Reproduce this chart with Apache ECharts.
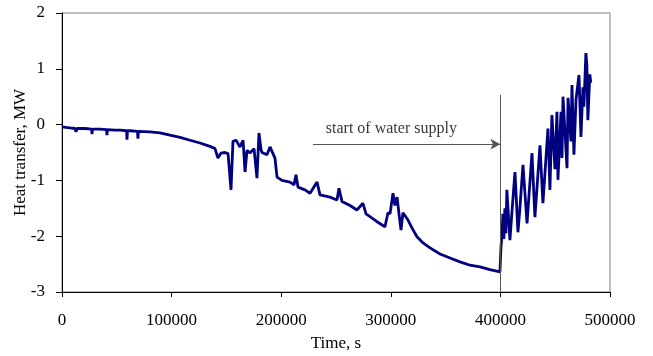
<!DOCTYPE html>
<html>
<head>
<meta charset="utf-8">
<script src="https://cdn.jsdelivr.net/npm/echarts@6/dist/echarts.min.js"></script>
<style>html,body{margin:0;padding:0;background:#fff}#c{width:653px;height:356px}</style>
</head>
<body>
<div id="c"></div>
<script>
// Time, s
var timeS = [0,3600,7300,11900,12800,13700,21000,27000,27400,27800,34700,40600,41000,41400,48400,52900,58900,59300,59700,62000,68900,69300,69700,71200,80300,89400,98500,107700,116800,125900,135000,139600,142300,145100,148700,151500,154200,156000,158800,162400,165200,167000,168800,171500,175200,177900,179700,181600,182500,184300,187000,189800,191600,194300,196200,200700,208000,211700,213500,215300,221700,226300,232700,235400,244500,250900,252700,255500,262800,269100,274600,277400,281000,287400,294700,297400,299300,302000,303800,305700,307500,309300,311100,315700,319300,323900,329400,335800,344900,354000,363100,372300,381400,390500,399600,400500,401400,402300,403200,404100,405000,405900,408700,410400,413300,416000,417800,420600,424300,428800,431500,436100,438800,443400,445200,447000,449800,451600,452500,455300,456200,457100,460800,461700,464400,465300,467100,469000,471700,473500,475300,476200,478000,478900,479800,481600,482500];
// Heat transfer, MW
var heatMW = [-0.04,-0.05,-0.06,-0.07,-0.13,-0.07,-0.07,-0.08,-0.17,-0.08,-0.08,-0.09,-0.19,-0.09,-0.1,-0.1,-0.11,-0.27,-0.11,-0.11,-0.12,-0.25,-0.12,-0.12,-0.13,-0.15,-0.19,-0.23,-0.28,-0.33,-0.39,-0.43,-0.6,-0.51,-0.5,-0.52,-1.17,-0.3,-0.28,-0.4,-0.28,-0.85,-0.46,-0.51,-0.43,-0.96,-0.15,-0.45,-0.5,-0.49,-0.54,-0.4,-0.37,-0.6,-0.94,-1.0,-1.03,-1.08,-0.9,-1.12,-1.17,-1.23,-1.03,-1.26,-1.3,-1.35,-1.14,-1.38,-1.45,-1.53,-1.41,-1.6,-1.65,-1.74,-1.83,-1.58,-1.6,-1.23,-1.45,-1.3,-1.6,-1.89,-1.58,-1.71,-1.85,-2.01,-2.12,-2.21,-2.32,-2.39,-2.46,-2.52,-2.55,-2.6,-2.64,-2.2,-1.98,-1.6,-2.05,-1.5,-1.95,-1.17,-2.07,-1.6,-0.85,-1.93,-1.5,-0.72,-1.77,-0.51,-1.66,-0.37,-1.41,-0.07,-1.17,0.17,-0.8,0.23,-0.99,0.23,-0.6,0.5,-0.78,0.48,-0.3,0.71,-0.54,0.45,0.89,-0.22,0.67,0.32,1.28,1.07,0.08,0.9,0.75,0.85];

var xTicks = [0,100000,200000,300000,400000,500000];
var yTicks = [-3,-2,-1,0,1,2];

// annotation: vertical marker at start of water supply, arrow
var supplyTime = 400000;
var supplyLineTop = 0.53;
var arrowStartTime = 229000;
var arrowLevel = -0.35;
var annotationText = 'start of water supply';

var data = timeS.map(function(t,i){return [t, heatMW[i]];});

var chart = echarts.init(document.getElementById('c'), null, {renderer:'canvas'});
var font = '"Liberation Serif", "Times New Roman", serif';
chart.setOption({
  animation:false,
  backgroundColor:'#fff',
  grid:{left:62,right:43,top:13,bottom:64,show:true,borderColor:'#808080',borderWidth:1,containLabel:false,outerBoundsMode:'none'},
  xAxis:{
    type:'value',min:xTicks[0],max:xTicks[xTicks.length-1],interval:100000,
    name:'Time, s',nameLocation:'middle',nameGap:43,
    nameTextStyle:{fontFamily:font,fontSize:17,color:'#000'},
    axisLine:{show:true,onZero:false,lineStyle:{color:'#000',width:1}},
    axisTick:{show:true,length:5,lineStyle:{color:'#000'}},
    axisLabel:{margin:20,fontFamily:font,fontSize:17,color:'#000',formatter:function(v){return String(v);}},
    splitLine:{show:false}
  },
  yAxis:{
    type:'value',min:yTicks[0],max:yTicks[yTicks.length-1],interval:1,
    name:'Heat transfer, MW',nameLocation:'middle',nameGap:33,nameRotate:90,nameMoveOverlap:false,
    nameTextStyle:{fontFamily:font,fontSize:17,color:'#000'},
    axisLine:{show:true,onZero:false,lineStyle:{color:'#000',width:1}},
    axisTick:{show:true,length:6,lineStyle:{color:'#000'}},
    axisLabel:{margin:17,fontFamily:font,fontSize:17,color:'#000'},
    splitLine:{show:false}
  },
  series:[
    {
      type:'line',data:data,showSymbol:false,symbol:'none',
      lineStyle:{color:'#000080',width:2.8},
      z:3
    },
    {
      type:'line',data:[],silent:true,
      markLine:{
        silent:true,animation:false,
        data:[
          [{coord:[supplyTime,supplyLineTop],symbol:'none'},{coord:[supplyTime,yTicks[0]],symbol:'none'}],
          [{coord:[arrowStartTime,arrowLevel],symbol:'none'},{coord:[supplyTime,arrowLevel],symbol:'arrow',symbolSize:[8,10]}]
        ],
        lineStyle:{color:'#555',width:1,type:'solid'},
        label:{show:false}
      },
      z:2
    },
    {
      type:'scatter',data:[[ (arrowStartTime+supplyTime)/2 - 14000, arrowLevel ]],symbolSize:0,silent:true,
      label:{show:true,formatter:annotationText,position:'top',distance:7,fontFamily:font,fontSize:16,color:'#000'}
    }
  ]
});
</script>
</body>
</html>
